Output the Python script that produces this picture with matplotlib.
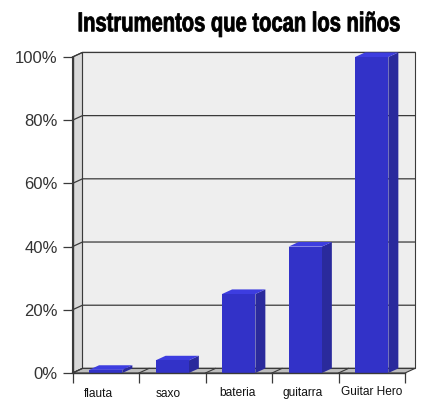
import matplotlib
matplotlib.use('Agg')
import matplotlib.pyplot as plt
from matplotlib.patches import Polygon
from matplotlib.patheffects import AbstractPathEffect
from matplotlib.transforms import Affine2D

title = 'Instrumentos que tocan los niños'
categories = ['flauta', 'saxo', 'bateria', 'guitarra', 'Guitar Hero']
values = [1, 4, 25, 40, 100]
y_ticks = [0, 20, 40, 60, 80, 100]
y_labels = ['0%', '20%', '40%', '60%', '80%', '100%']

W, H = 434, 404
fig = plt.figure(figsize=(W / 100, H / 100), dpi=100, facecolor='white')
# front plane of the fake 3d box
ax = fig.add_axes([72.5 / W, 1 - 373 / H, 332.5 / W, 316 / H])
ax.set_xlim(-0.5, 4.5)
ax.set_ylim(0, 100)
ax.patch.set_visible(False)

# depth of the box and bar width, in data units
dx = 0.15
dy = 1.45
bar_w = 0.5
line = '#3a3a3a'


def poly(points, color, z, edge='none'):
    ax.add_patch(Polygon(points, closed=True, facecolor=color, edgecolor=edge,
                         linewidth=0.8, zorder=z, clip_on=False))


# walls and floor
poly([(-0.5 + dx, dy), (4.5 + dx, dy), (4.5 + dx, 100 + dy), (-0.5 + dx, 100 + dy)], '#eeeeee', 1, line)
poly([(-0.5, 0), (-0.5 + dx, dy), (-0.5 + dx, 100 + dy), (-0.5, 100)], '#d9d9d9', 1, line)
poly([(-0.5, 0), (4.5, 0), (4.5 + dx, dy), (-0.5 + dx, dy)], '#bdbdbd', 1, line)

# gridlines with the little slanted part on the left wall
for t in y_ticks:
    ax.plot([-0.5, -0.5 + dx, 4.5 + dx], [t, t + dy, t + dy], color=line, lw=0.9, zorder=2,
            clip_on=False)
# floor dividers
for i in range(1, 5):
    ax.plot([-0.5 + i, -0.5 + i + dx], [0, dy], color=line, lw=0.8, zorder=2)

# bars
for i, v in enumerate(values):
    l = i - bar_w / 2
    r = l + bar_w
    poly([(l, 0), (r, 0), (r, v), (l, v)], '#3232c8', 4)
    poly([(r, 0), (r + dx, dy), (r + dx, v + dy), (r, v)], '#2a2a9c', 3)
    poly([(l, v), (r, v), (r + dx, v + dy), (l + dx, v + dy)], '#3d3de0', 3)

for s in ['top', 'right']:
    ax.spines[s].set_visible(False)
for s in ['left', 'bottom']:
    ax.spines[s].set_color(line)
    ax.spines[s].set_linewidth(1.0)
    ax.spines[s].set_zorder(5)

ax.set_yticks(y_ticks)
ax.set_yticklabels(y_labels, fontfamily='Liberation Sans', fontsize=12, color='#333333')
ax.tick_params(axis='y', length=7.2, width=0.9, color=line, pad=3.4)
ax.set_xticks([i - 0.5 for i in range(6)])
ax.set_xticklabels([])
ax.tick_params(axis='x', length=7.2, width=0.9, color=line, direction='out')

# category labels sit a bit off centre in the original
label_shift = [-5, -3, -1, -2, 0]
label_drop = [-15, -15, -14.5, -14.5, -13.5]
trans = ax.get_xaxis_transform()
for i, name in enumerate(categories):
    ax.annotate(name, xy=(i, 0), xycoords=trans, xytext=(label_shift[i], label_drop[i]),
                textcoords='offset points', ha='center', va='center',
                fontfamily='Liberation Sans', fontsize=8.6, color='#111111')


# no narrow heavy font installed: squeeze a bold one to look like the title face
class Squeeze(AbstractPathEffect):
    def __init__(self, sx, sy, cx, cy, stroke):
        super().__init__()
        self.sx, self.sy, self.cx, self.cy, self.stroke = sx, sy, cx, cy, stroke

    def draw_path(self, renderer, gc, tpath, affine, rgbFace=None):
        squeeze = Affine2D().translate(-self.cx, -self.cy).scale(self.sx, self.sy).translate(self.cx, self.cy)
        gc0 = renderer.new_gc()
        gc0.copy_properties(gc)
        gc0.set_linewidth(self.stroke)
        gc0.set_foreground('black')
        renderer.draw_path(gc0, tpath, affine + squeeze, rgbFace)
        gc0.restore()


title_text = fig.text(239 / W, 1 - 24 / H, title, ha='center', va='center', fontsize=17.5,
                      fontweight='bold', family='Liberation Sans', color='black')
title_text.set_path_effects([Squeeze(0.83, 1.12, 239, H - 24, 0.6)])

fig.savefig('out.png', dpi=100)
